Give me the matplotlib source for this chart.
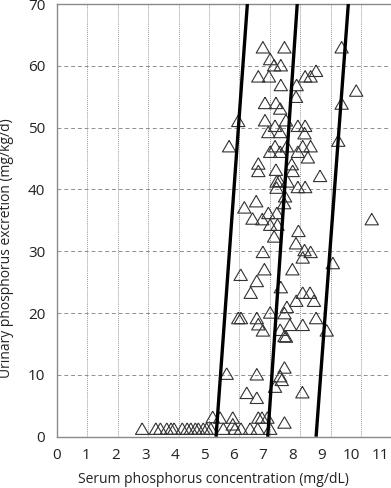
import matplotlib
matplotlib.use('Agg')
import matplotlib.pyplot as plt
import matplotlib.transforms as mtransforms
from matplotlib.ticker import FixedLocator

plt.rcParams['font.family'] = ['Open Sans', 'DejaVu Sans']

# serum phosphorus (mg/dL) vs urinary phosphorus excretion (mg/kg/d)
serum = [
    6.77, 7.48, 9.36, 7.01, 7.14, 7.36, 8.52, 8.16, 8.34, 6.62, 6.97, 7.36,
    7.88, 9.84, 7.86, 6.84, 7.20, 9.36, 7.34, 5.96, 6.84, 7.53, 7.17, 7.92,
    8.16, 6.95, 7.34, 8.14, 9.25, 5.66, 7.17, 7.56, 8.08, 8.34, 7.01, 7.34,
    7.92, 8.25, 6.62, 6.62, 7.20, 7.72, 7.75, 8.65, 7.22, 7.31, 7.58, 7.22,
    7.92, 8.16, 7.50, 7.47, 6.55, 6.16, 6.95, 7.23, 6.43, 6.75, 7.01, 7.25,
    10.35, 7.94, 7.14, 7.86, 8.14, 8.34, 8.08, 6.77, 9.07, 6.82, 7.74, 6.04,
    6.57, 6.37, 7.36, 8.08, 8.32, 7.87, 8.45, 7.56, 7.01, 7.48, 5.96, 6.05,
    6.57, 8.52, 6.62, 7.66, 8.08, 6.77, 7.34, 8.87, 7.48, 7.53, 7.48, 5.58,
    6.57, 7.34, 7.39, 7.17, 6.24, 6.57, 8.07, 5.12, 5.36, 5.78, 6.62, 6.74,
    6.92, 5.78, 7.48,
    2.80, 3.25, 3.40, 3.61, 3.75, 3.85, 4.12, 4.28, 4.40, 4.55, 4.65, 4.81,
    4.92, 5.06, 5.47, 5.85, 6.05, 6.35, 6.60, 7.01,
]
urinary = [
    63.0, 63.0, 63.0, 61.1, 60.1, 60.1, 59.2, 58.3, 58.3, 58.3, 58.3, 56.9,
    56.9, 56.0, 55.0, 54.0, 54.0, 53.9, 53.1, 51.1, 51.2, 51.2, 50.3, 50.3,
    50.3, 49.3, 49.3, 49.1, 47.9, 47.0, 47.0, 47.0, 47.0, 47.0, 46.1, 46.1,
    46.1, 45.2, 44.2, 43.0, 43.2, 44.1, 43.0, 42.2, 41.3, 41.4, 41.3, 40.3,
    40.4, 40.4, 38.9, 37.8, 38.1, 37.1, 36.2, 36.2, 35.3, 35.2, 34.3, 34.3,
    35.2, 33.3, 32.4, 31.3, 30.2, 29.9, 29.0, 29.9, 28.1, 27.1, 27.1, 26.2,
    25.2, 23.3, 24.2, 23.3, 23.3, 22.0, 22.0, 21.0, 20.1, 20.0, 19.2, 19.2,
    19.2, 19.2, 18.2, 18.1, 18.1, 17.2, 17.3, 17.2, 16.3, 16.2, 11.2, 10.2,
    10.1, 9.8, 9.2, 8.1, 7.1, 6.3, 7.2, 3.2, 3.1, 3.1, 3.1, 3.1,
    3.1, 2.0, 2.3,
    1.3, 1.3, 1.3, 1.3, 1.3, 1.3, 1.3, 1.3, 1.3, 1.3, 1.3, 1.3,
    1.3, 1.3, 1.3, 1.3, 1.3, 1.3, 1.3, 1.3,
]

# three reference lines (serum at y=0 and y=70)
line_y = [0, 70]
line_x = [
    [5.23, 6.26],
    [6.93, 7.90],
    [8.52, 9.58],
]

x_ticks = list(range(0, 12))
y_ticks = list(range(0, 80, 10))

fig = plt.figure(figsize=(3.91, 4.88), dpi=100)
ax = fig.add_axes([57 / 391, 1 - 436.7 / 488, 334.5 / 391, 432.7 / 488])

tri = [(0, 0.86), (-1, -0.86), (1, -0.86), (0, 0.86)]
ax.scatter(serum, urinary, marker=tri, s=92, facecolors='none',
           edgecolors='#333333', linewidths=0.8, zorder=3, clip_on=False)

for xs in line_x:
    ax.plot(xs, line_y, color='black', lw=2.4, zorder=4, solid_capstyle='butt')

ax.set_xlim(0, 11)
ax.set_ylim(0, 70)
ax.xaxis.set_major_locator(FixedLocator(x_ticks))
ax.yaxis.set_major_locator(FixedLocator(y_ticks))
ax.set_xticklabels([str(t) for t in x_ticks])
ax.tick_params(length=0, labelsize=11, colors='#222222')
ax.tick_params(axis='x', pad=8)
ax.tick_params(axis='y', pad=8.5)

ax.grid(axis='x', color='#9a9a9a', linestyle=(0, (1, 1)), lw=0.7)
ax.grid(axis='y', color='#8f8f8f', linestyle=(0, (4, 3)), lw=0.7)
ax.set_axisbelow(True)

for s in ['left', 'bottom', 'top', 'right']:
    ax.spines[s].set_color('#8a8a8a')
    ax.spines[s].set_linewidth(1.0)

# original tick labels drift slightly left of the grid
for i, lab in enumerate(ax.get_xticklabels()):
    off = mtransforms.ScaledTranslation(-x_ticks[i] * 1.0 / 100, 0, fig.dpi_scale_trans)
    lab.set_transform(lab.get_transform() + off)

ax.set_xlabel('Serum phosphorus concentration (mg/dL)', fontsize=10, color='#222222')
ax.set_ylabel('Urinary phosphorus excretion (mg/kg/d)', fontsize=10, color='#222222')
ax.xaxis.set_label_coords(0.468, -0.081)
ax.yaxis.set_label_coords(-0.13, 0.435)

fig.savefig('out.png', dpi=100)
